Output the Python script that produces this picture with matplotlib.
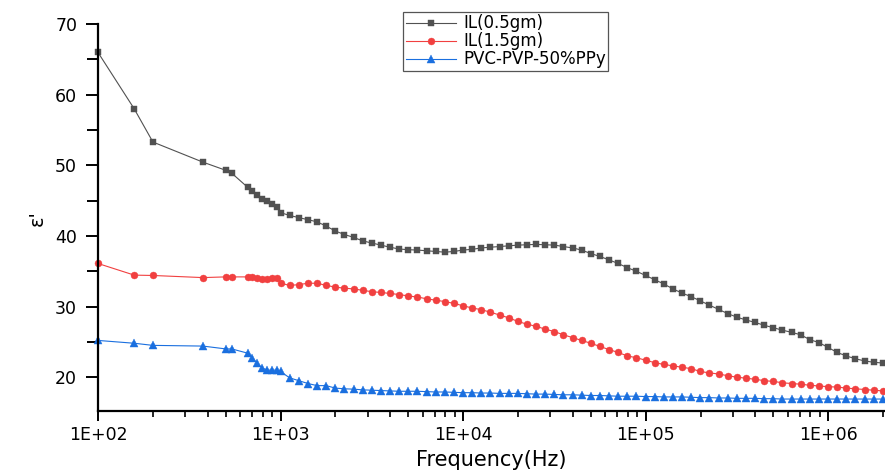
import matplotlib
matplotlib.use("Agg")
import matplotlib.pyplot as plt
from matplotlib.ticker import FixedLocator, FuncFormatter, MultipleLocator, LogLocator, NullFormatter

plt.rcParams['font.family'] = ['DejaVu Sans']

# ---------------- data ----------------
freq_low = [100, 158, 200, 376, 501, 540, 660, 700, 745, 790, 845, 900, 955]
freq_high = [1000, 1122, 1259, 1413, 1585, 1778, 1995, 2239, 2512, 2818,
             3162, 3548, 3981, 4467, 5012, 5623, 6310, 7079, 7943, 8913,
             10000, 11220, 12589, 14125, 15849, 17783, 19953, 22387, 25119, 28184,
             31623, 35481, 39811, 44668, 50119, 56234, 63096, 70795, 79433, 89125,
             100000, 112202, 125893, 141254, 158489, 177828, 199526, 223872, 251189, 281838,
             316228, 354813, 398107, 446684, 501187, 562341, 630957, 707946, 794328, 891251,
             1000000, 1122018, 1258925, 1412538, 1584893, 1778279, 1995262]

il05_low = [66.0, 58.0, 53.3, 50.45, 49.3, 48.9, 46.9, 46.3, 45.8, 45.3, 44.9, 44.5, 44.1]
il05_high = [43.3, 42.9, 42.6, 42.3, 42.0, 41.4, 40.7, 40.2, 39.8, 39.3,
             39.0, 38.7, 38.4, 38.15, 38.05, 38.0, 37.9, 37.8, 37.7, 37.8,
             38.0, 38.1, 38.3, 38.4, 38.5, 38.6, 38.7, 38.75, 38.8, 38.75,
             38.7, 38.5, 38.3, 38.0, 37.5, 37.1, 36.6, 36.1, 35.5, 35.0,
             34.4, 33.8, 33.2, 32.5, 31.9, 31.4, 30.8, 30.2, 29.6, 29.0,
             28.5, 28.1, 27.75, 27.35, 27.0, 26.65, 26.35, 26.0, 25.3, 24.9,
             24.2, 23.5, 23.0, 22.6, 22.3, 22.1, 22.0]

il15_low = [36.1, 34.45, 34.4, 34.1, 34.2, 34.2, 34.2, 34.2, 34.0, 33.9, 33.9, 34.0, 34.0]
il15_high = [33.3, 33.0, 33.1, 33.3, 33.3, 33.0, 32.75, 32.6, 32.5, 32.3,
             32.1, 32.0, 31.85, 31.7, 31.5, 31.35, 31.1, 30.9, 30.7, 30.45,
             30.1, 29.8, 29.55, 29.2, 28.8, 28.4, 27.9, 27.5, 27.2, 26.8,
             26.45, 26.0, 25.6, 25.2, 24.8, 24.35, 23.9, 23.5, 23.0, 22.75,
             22.4, 22.05, 21.8, 21.6, 21.4, 21.2, 20.8, 20.6, 20.45, 20.2,
             20.0, 19.85, 19.7, 19.5, 19.4, 19.2, 19.1, 19.0, 18.85, 18.75,
             18.65, 18.6, 18.45, 18.35, 18.25, 18.15, 18.05]

ppy_low = [25.2, 24.8, 24.5, 24.4, 24.0, 24.0, 23.4, 22.7, 22.0, 21.3, 21.0, 21.0, 21.0]
ppy_high = [20.8, 19.9, 19.5, 19.1, 18.8, 18.8, 18.45, 18.35, 18.3, 18.2,
            18.15, 18.1, 18.05, 18.0, 18.0, 18.0, 17.95, 17.9, 17.9, 17.85,
            17.8, 17.8, 17.75, 17.75, 17.7, 17.7, 17.7, 17.65, 17.6, 17.6,
            17.55, 17.5, 17.5, 17.45, 17.4, 17.4, 17.35, 17.3, 17.3, 17.3,
            17.25, 17.25, 17.2, 17.2, 17.2, 17.15, 17.1, 17.1, 17.05, 17.05,
            17.0, 17.0, 17.0, 16.95, 16.95, 16.9, 16.9, 16.9, 16.9, 16.9,
            16.9, 16.9, 16.9, 16.9, 16.9, 16.9, 16.9]

labels = ["IL(0.5gm)", "IL(1.5gm)", "PVC-PVP-50%PPy"]
colors = ["#515151", "#F14040", "#1A6FDF"]
markers = ["s", "o", "^"]
msizes = [5.0, 5.0, 5.8]
y_ticks = [20, 30, 40, 50, 60, 70]
x_ticks = [1e2, 1e3, 1e4, 1e5, 1e6]
x_ticklabels = ["1E+02", "1E+03", "1E+04", "1E+05", "1E+06"]

# ---------------- figure ----------------
fig = plt.figure(figsize=(8.85, 4.73), dpi=100)
ax = fig.add_axes([0.1107, 0.131, 0.8893, 0.818])

freq = freq_low + freq_high
series = [il05_low + il05_high, il15_low + il15_high, ppy_low + ppy_high]
for vals, lab, c, m, ms in zip(series, labels, colors, markers, msizes):
    ax.plot(freq, vals, color=c, lw=0.8, marker=m, ms=ms, mec=c, mew=0.3,
            label=lab, clip_on=False)

ax.set_xscale('log')
ax.set_xlim(100, 2.05e6)
ax.set_ylim(15.2, 70)

ax.xaxis.set_major_locator(FixedLocator(x_ticks))
ax.xaxis.set_major_formatter(FuncFormatter(
    lambda v, p: x_ticklabels[x_ticks.index(v)] if v in x_ticks else ""))
ax.xaxis.set_minor_locator(LogLocator(base=10, subs=range(2, 10), numticks=20))
ax.xaxis.set_minor_formatter(NullFormatter())

ax.yaxis.set_major_locator(FixedLocator(y_ticks))
ax.yaxis.set_minor_locator(MultipleLocator(5))

for s in ['top', 'right']:
    ax.spines[s].set_visible(False)
for s in ['left', 'bottom']:
    ax.spines[s].set_linewidth(1.6)
    ax.spines[s].set_color('black')

ax.tick_params(axis='both', which='major', direction='out', width=1.4, labelsize=12.5)
ax.tick_params(axis='y', which='major', length=9, pad=6)
ax.tick_params(axis='y', which='minor', length=8, width=1.4)
ax.tick_params(axis='x', which='major', length=7, pad=4)
ax.tick_params(axis='x', which='minor', length=4, width=1.2)

ax.set_xlabel("Frequency(Hz)", fontsize=15, labelpad=4)
ax.set_ylabel("ε'", fontsize=14, labelpad=6)

leg = ax.legend(loc='upper left', bbox_to_anchor=(403 / 885, 1 - 12 / 473),
                bbox_transform=fig.transFigure, borderaxespad=0,
                frameon=True, fancybox=False, framealpha=1, edgecolor='#555555',
                fontsize=12, labelspacing=0.0, handlelength=3.0,
                handletextpad=0.45, borderpad=0.15)
leg.get_frame().set_linewidth(0.9)

fig.savefig("out.png", dpi=100)
